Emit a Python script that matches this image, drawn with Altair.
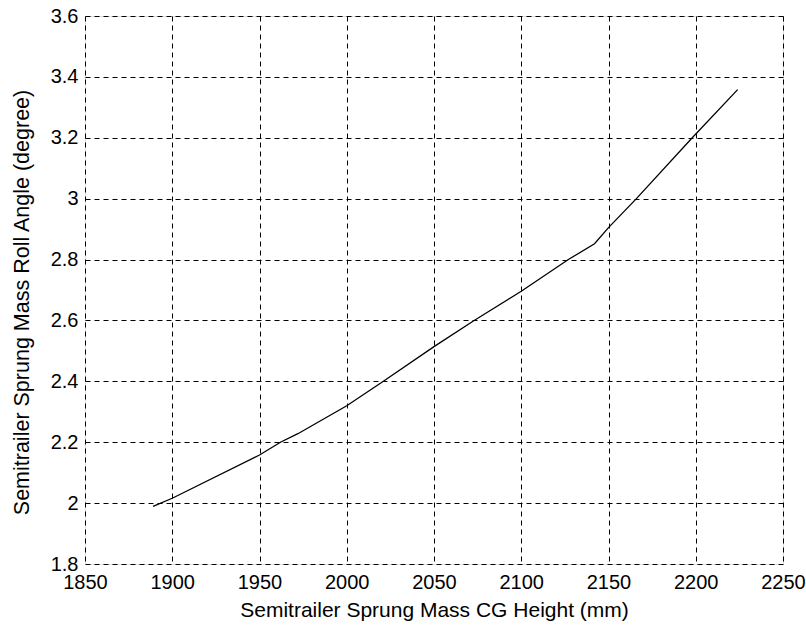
import altair as alt
import pandas as pd

cg_height = [1889, 1900, 1950, 1962, 1972, 2000, 2021, 2050, 2073, 2100, 2127, 2142, 2150, 2166, 2198, 2224]
roll_angle = [1.989, 2.016, 2.158, 2.200, 2.228, 2.320, 2.400, 2.514, 2.600, 2.696, 2.800, 2.852, 2.905, 3.000, 3.200, 3.358]

x_ticks = [1850, 1900, 1950, 2000, 2050, 2100, 2150, 2200, 2250]
y_ticks = [1.8, 2.0, 2.2, 2.4, 2.6, 2.8, 3.0, 3.2, 3.4, 3.6]

df = pd.DataFrame({"h": cg_height, "a": roll_angle, "order": list(range(len(cg_height)))})

FONT = "Liberation Sans"

chart = alt.Chart(df).mark_line(color="black", strokeWidth=1.3).encode(
    x=alt.X("h:Q",
            scale=alt.Scale(domain=[1850, 2250], nice=False, zero=False),
            axis=alt.Axis(values=x_ticks, format="d", title="Semitrailer Sprung Mass CG Height (mm)",
                          grid=True, gridColor="black", gridDash=[5, 4], gridWidth=1, gridOpacity=1,
                          ticks=False, domain=False, labelPadding=8, titlePadding=7,
                          labelFlush=False, labelOverlap=False,
                          labelFont=FONT, labelFontSize=20, labelColor="black",
                          titleFont=FONT, titleFontSize=21, titleFontWeight="normal", titleColor="black")),
    y=alt.Y("a:Q",
            scale=alt.Scale(domain=[1.8, 3.6], nice=False, zero=False),
            axis=alt.Axis(values=y_ticks, format=".1~f", title="Semitrailer Sprung Mass Roll Angle (degree)",
                          grid=True, gridColor="black", gridDash=[5, 4], gridWidth=1, gridOpacity=1,
                          ticks=False, domain=False, labelPadding=7, titlePadding=17, titleY=286,
                          labelFlush=False, labelOverlap=False,
                          labelFont=FONT, labelFontSize=20, labelColor="black",
                          titleFont=FONT, titleFontSize=21.5, titleFontWeight="normal", titleColor="black")),
    order="order:Q",
).properties(
    width=698, height=548,
    autosize=alt.AutoSizeParams(type="none"),
    padding={"left": 85, "top": 16, "right": 23, "bottom": 62},
).configure_view(
    stroke="black", strokeWidth=1.5
).configure(background="white")

chart.save("out.html", embed_options={"renderer": "svg", "actions": False})
